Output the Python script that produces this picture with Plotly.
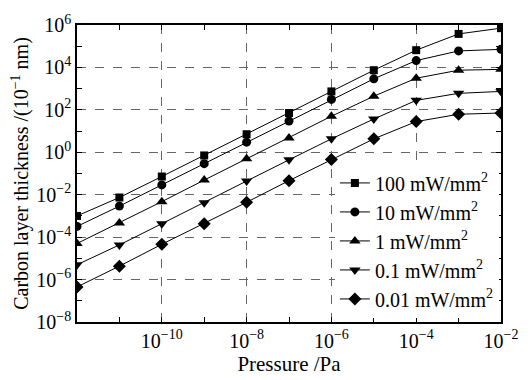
import plotly.graph_objects as go

pressure = [1e-12, 1e-11, 1e-10, 1e-9, 1e-8, 1e-7, 1e-6, 1e-5, 1e-4, 1e-3, 1e-2]
s100 = [1.0e-3, 7.4e-3, 7.2e-2, 0.71, 7.1, 71, 740, 7400, 6.5e4, 3.8e5, 7.1e5]
s10 = [3.2e-4, 2.9e-3, 2.9e-2, 0.29, 3.0, 30, 310, 2900, 2.1e4, 6.0e4, 7.1e4]
s1 = [5.0e-5, 4.7e-4, 4.7e-3, 4.9e-2, 0.49, 4.7, 50, 440, 3100, 7400, 8100]
s01 = [5.0e-6, 4.3e-5, 4.3e-4, 4.2e-3, 4.4e-2, 0.44, 4.3, 37, 280, 600, 740]
s001 = [4.5e-7, 4.3e-6, 4.6e-5, 4.3e-4, 4.4e-3, 4.6e-2, 0.46, 4.3, 28, 62, 71]

names = ["100 mW/mm<sup>2</sup>", "10 mW/mm<sup>2</sup>", "1 mW/mm<sup>2</sup>",
         "0.1 mW/mm<sup>2</sup>", "0.01 mW/mm<sup>2</sup>"]
series = [s100, s10, s1, s01, s001]
symbols = ["square", "circle", "triangle-up", "triangle-down", "diamond"]
sizes = [8, 9, 10, 10, 10]

x_major = [1e-10, 1e-8, 1e-6, 1e-4, 1e-2]
x_major_text = ["10<sup>−10</sup>", "10<sup>−8</sup>", "10<sup>−6</sup>", "10<sup>−4</sup>", "10<sup>−2</sup>"]
x_minor = [1e-11, 1e-9, 1e-7, 1e-5, 1e-3]
y_major = [1e6, 1e4, 1e2, 1e0, 1e-2, 1e-4, 1e-6, 1e-8]
y_major_text = ["10<sup>6</sup>", "10<sup>4</sup>", "10<sup>2</sup>", "10<sup>0</sup>",
                "10<sup>−2</sup>", "10<sup>−4</sup>", "10<sup>−6</sup>", "10<sup>−8</sup>"]
y_minor = [1e5, 1e3, 1e1, 1e-1, 1e-3, 1e-5, 1e-7]

FONT = "Liberation Serif"

fig = go.Figure()
for name, ys, sym, sz in zip(names, series, symbols, sizes):
    fig.add_trace(go.Scatter(
        x=pressure, y=ys, name=name, mode="lines+markers",
        line=dict(color="black", width=1),
        marker=dict(symbol=sym, size=sz, color="black"),
    ))

axis_common = dict(
    type="log", showline=True, linecolor="black", linewidth=1.5, mirror="ticks",
    ticks="inside", ticklen=5, tickcolor="black", tickwidth=1,
    showgrid=True, gridcolor="#666666", griddash="dash", gridwidth=1,
    zeroline=False, tickfont=dict(family=FONT, size=20, color="black"),
    tickmode="array",
)

fig.update_xaxes(
    **axis_common, range=[-12, -2], tickvals=x_major, ticktext=x_major_text,
    minor=dict(tickmode="array", tickvals=x_minor, ticks="inside", ticklen=5,
               tickcolor="black", showgrid=False),
    title=dict(text="Pressure /Pa", font=dict(family=FONT, size=21, color="black"), standoff=2),
)
fig.update_yaxes(
    **axis_common, range=[-8, 6], tickvals=y_major, ticktext=y_major_text,
    minor=dict(tickmode="array", tickvals=y_minor, ticks="inside", ticklen=5,
               tickcolor="black", showgrid=False),
    title=dict(text="Carbon layer thickness /(10<sup>−1</sup> nm)",
               font=dict(family=FONT, size=20, color="black"), standoff=2),
)

fig.update_layout(
    width=530, height=380,
    margin=dict(l=77, r=27, t=14, b=54),
    paper_bgcolor="white", plot_bgcolor="white",
    font=dict(family=FONT, size=20, color="black"),
    legend=dict(x=0.995, y=0.012, xanchor="right", yanchor="bottom",
                bgcolor="white", borderwidth=0,
                font=dict(family=FONT, size=20, color="black"),
                itemwidth=30, tracegroupgap=0),
    showlegend=True,
)

fig.write_html(
    "out.html",
    config={"displayModeBar": False},
    post_script="document.body.style.margin='0';document.body.style.overflow='hidden';",
)
